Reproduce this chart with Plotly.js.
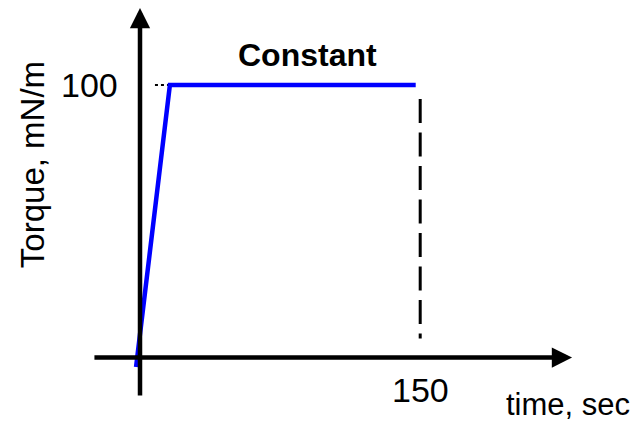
<!DOCTYPE html>
<html>
<head>
<meta charset="utf-8">
<script src="https://cdn.plot.ly/plotly-3.0.1.min.js"></script>
<style>html,body{margin:0;padding:0;background:#fff;}#chart{width:638px;height:423px;}</style>
</head>
<body>
<div id="chart"></div>
<script>
// Torque profile (blue)
var timeVals = [-2.1, 16, 147.6];
var torqueVals = [-3.5, 100, 100];
// dotted guide at 100
var dotX = [8, 17];
var dotY = [100, 100];
// dashed end marker at t = 150
var endX = [150, 150];
var endY = [94.9, 7.0];
// labels
var tickLabels = ['100', '150'];
var tickX = [-26.8, 150];
var tickY = [100, -11.9];
var yTitle = 'Torque, mN/m';
var xTitle = 'time, sec';
var plateauLabel = 'Constant';
// axis arrow extents
var xAxisSpan = [-25.2, 231.3];
var yAxisSpan = [-14.5, 128.3];

var FONT = 'Liberation Sans, Arial, sans-serif';

var traces = [
  {x: dotX, y: dotY, mode: 'lines', line: {color: '#000', width: 2, dash: 'dot'}, hoverinfo: 'skip'},
  {x: endX, y: endY, mode: 'lines', line: {color: '#000', width: 3, dash: '24px,9.5px'}, hoverinfo: 'skip'},
  {x: timeVals, y: torqueVals, mode: 'lines', line: {color: '#0000ff', width: 4.5}, hoverinfo: 'skip'}
];

var annotations = [
  // x axis arrow
  {x: xAxisSpan[1], y: 0, ax: xAxisSpan[0], ay: 0, xref: 'x', yref: 'y', axref: 'x', ayref: 'y',
   text: '', showarrow: true, arrowhead: 2, arrowwidth: 4.5, arrowsize: 0.9, arrowcolor: '#000', standoff: 0},
  // y axis arrow
  {x: 0, y: yAxisSpan[1], ax: 0, ay: yAxisSpan[0], xref: 'x', yref: 'y', axref: 'x', ayref: 'y',
   text: '', showarrow: true, arrowhead: 2, arrowwidth: 4.5, arrowsize: 0.9, arrowcolor: '#000', standoff: 0},
  {x: -57.8, y: 70.6, xref: 'x', yref: 'y', text: yTitle, textangle: -90, showarrow: false,
   font: {family: FONT, size: 33, color: '#000'}, xanchor: 'center', yanchor: 'middle'},
  {x: 229, y: -17.4, xref: 'x', yref: 'y', text: xTitle, showarrow: false,
   font: {family: FONT, size: 31, color: '#000'}, xanchor: 'center', yanchor: 'middle'},
  {x: 89.4, y: 111, xref: 'x', yref: 'y', text: '<b>' + plateauLabel + '</b>', showarrow: false,
   font: {family: FONT, size: 32, color: '#000'}, xanchor: 'center', yanchor: 'middle'}
];
for (var i = 0; i < tickLabels.length; i++) {
  annotations.push({x: tickX[i], y: tickY[i], xref: 'x', yref: 'y', text: tickLabels[i], showarrow: false,
    font: {family: FONT, size: 34, color: '#000'}, xanchor: 'center', yanchor: 'middle'});
}

var layout = {
  width: 638, height: 423,
  margin: {l: 0, r: 0, t: 0, b: 0},
  paper_bgcolor: '#fff', plot_bgcolor: '#fff',
  showlegend: false,
  xaxis: {range: [-74.95, 266.6], visible: false, fixedrange: true},
  yaxis: {range: [-24.04, 131.2], visible: false, fixedrange: true},
  annotations: annotations
};

Plotly.newPlot('chart', traces, layout, {staticPlot: true});
</script>
</body>
</html>
